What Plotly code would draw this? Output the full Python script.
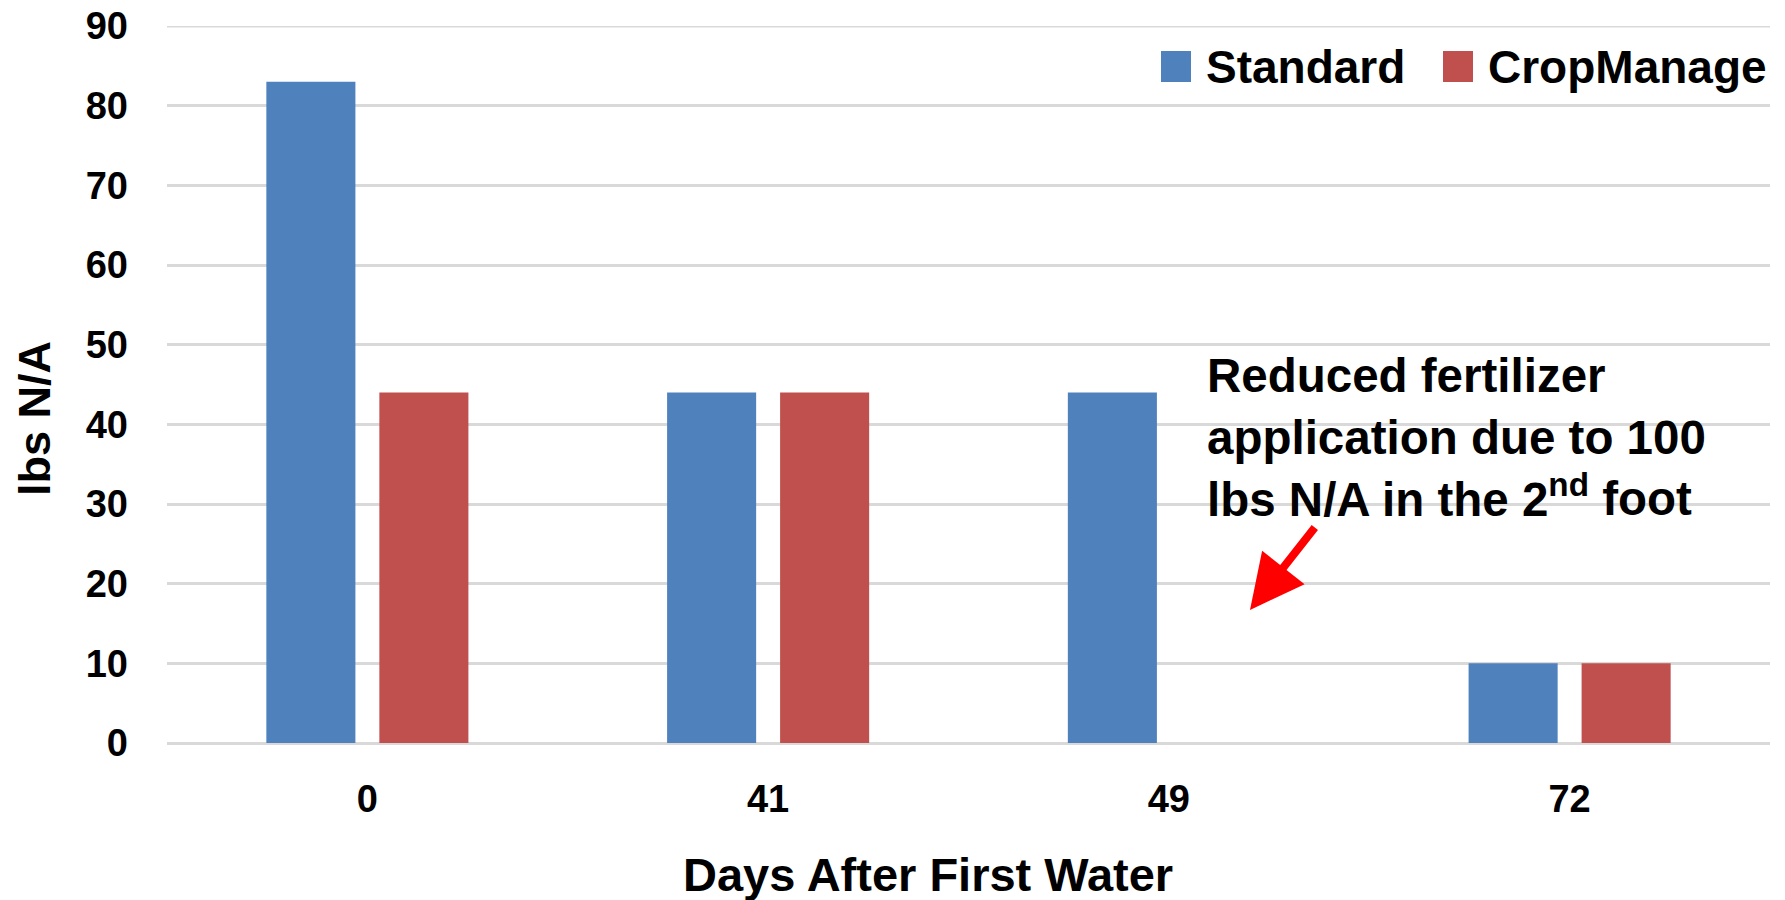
import plotly.graph_objects as go

# Nitrogen applications by day after first water
days = ["0", "41", "49", "72"]
standard = [83, 44, 44, 10]
cropmanage = [44, 44, 0, 10]
y_ticks = [0, 10, 20, 30, 40, 50, 60, 70, 80, 90]

series_names = ["Standard", "CropManage"]
series_colors = ["#4F81BD", "#C0504D"]

W, H = 1785, 900
L, R, T, B = 167, 15, 26, 157
FONT = "Liberation Sans, Arial, sans-serif"
GRID = "#D9D9D9"


def px_x(px):
    return (px - L) / (W - L - R)


def px_y(py):
    return (H - B - py) / (H - T - B)


fig = go.Figure()
for name, vals, color in zip(series_names, [standard, cropmanage], series_colors):
    fig.add_trace(go.Bar(
        x=days, y=vals, name=name,
        marker=dict(color=color, line=dict(width=0)),
        showlegend=False,
    ))

annotations = []
shapes = []

# gridline on the top edge of the value axis (plotly skips it at the range end)
shapes.append(dict(
    type="line", xref="paper", yref="y",
    x0=0, x1=1, y0=y_ticks[-1], y1=y_ticks[-1],
    line=dict(color=GRID, width=3), layer="below",
))

# legend drawn as swatches + labels
legend_items = [(1161, 1204), (1443, 1486)]
for (sx, tx), name, color in zip(legend_items, series_names, series_colors):
    shapes.append(dict(
        type="rect", xref="paper", yref="paper",
        x0=px_x(sx), x1=px_x(sx + 30), y0=px_y(82), y1=px_y(51),
        fillcolor=color, line=dict(width=0),
    ))
    annotations.append(dict(
        text=name, xref="paper", yref="paper",
        x=px_x(tx), y=px_y(67), xanchor="left", yanchor="middle",
        showarrow=False,
        font=dict(family=FONT, size=46, color="#000000", weight="bold"),
    ))

# axis titles
annotations.append(dict(
    text="Days After First Water", xref="paper", yref="paper",
    x=px_x(928), y=px_y(874), xanchor="center", yanchor="middle",
    showarrow=False,
    font=dict(family=FONT, size=47, color="#000000", weight="bold"),
))
annotations.append(dict(
    text="lbs N/A", xref="paper", yref="paper",
    x=px_x(35), y=px_y(419), xanchor="center", yanchor="middle",
    textangle=-90, showarrow=False,
    font=dict(family=FONT, size=45, color="#000000", weight="bold"),
))

# explanatory note with arrow
annotations.append(dict(
    text="Reduced fertilizer<br>application due to 100<br>lbs N/A in the 2<sup>nd</sup> foot",
    xref="paper", yref="paper",
    x=px_x(1205), y=px_y(437), xanchor="left", yanchor="middle",
    align="left", showarrow=False,
    font=dict(family=FONT, size=47.5, color="#000000", weight="bold"),
))
annotations.append(dict(
    text="", xref="paper", yref="paper",
    x=px_x(1250), y=px_y(610),
    ax=66, ay=-84,
    showarrow=True, arrowhead=2, arrowsize=1.35, arrowwidth=8,
    arrowcolor="#FF0000", standoff=0,
))

fig.update_layout(
    width=W, height=H,
    margin=dict(l=L, r=R, t=T, b=B, pad=0),
    paper_bgcolor="#FFFFFF", plot_bgcolor="#FFFFFF",
    barmode="group", bargap=0.436, bargroupgap=0.212,
    font=dict(family=FONT, color="#000000"),
    xaxis=dict(
        type="category", categoryorder="array", categoryarray=days,
        showgrid=False, showline=False, zeroline=False, ticks="",
        automargin=False,
        tickfont=dict(family=FONT, size=38, color="#000000", weight="bold"),
        ticklabelstandoff=30,
    ),
    yaxis=dict(
        range=[0, 90], tickvals=y_ticks,
        showgrid=True, gridcolor=GRID, gridwidth=3,
        zeroline=True, zerolinecolor=GRID, zerolinewidth=3,
        showline=False, ticks="", automargin=False,
        tickfont=dict(family=FONT, size=38, color="#000000", weight="bold"),
        ticklabelstandoff=38,
    ),
    shapes=shapes,
    annotations=annotations,
    showlegend=False,
)

fig.write_html("out.html")
